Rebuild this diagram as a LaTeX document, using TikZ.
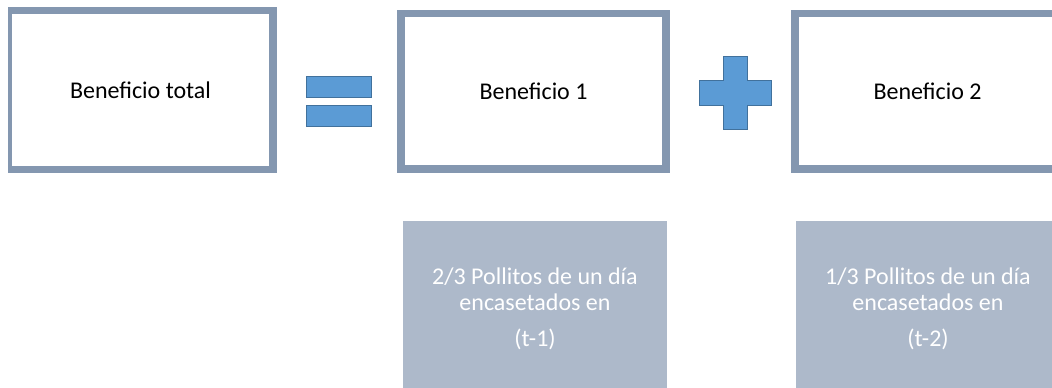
\documentclass[tikz,border=0pt]{standalone}
\usepackage{fontspec}
\setmainfont{Carlito}
\usepackage{xcolor}
\definecolor{boxedge}{HTML}{8497B0}
\definecolor{partfill}{HTML}{ADB9CA}
\definecolor{opfill}{HTML}{5B9BD5}
\definecolor{opedge}{HTML}{41719C}

\begin{document}
\begin{tikzpicture}[x=0.75pt, y=-0.75pt]
		\tikzstyle{total} = [rectangle, draw=boxedge, line width=5.6pt, fill=white, text centered, minimum width=199pt, inner sep=0pt, font=\fontsize{18}{21.6}\selectfont]
		\tikzstyle{share} = [rectangle, fill=partfill, text=white, align=center, minimum width=198pt, minimum height=132pt, inner sep=0pt, font=\fontsize{18}{19.5}\selectfont]
		\tikzstyle{operator} = [draw=opedge, line width=0.75pt, fill=opfill]
		\useasboundingbox (0,0) rectangle (1052,388);
		\clip (8,0) rectangle (1052,388);
		\node [total, minimum height=118.9pt] at (140.5,90) (bentotal) {Beneficio total};
		\node [total, minimum height=116.6pt] at (533.5,91.5) (ben1) {Beneficio 1};
		\node [total, minimum height=116.6pt] at (927.5,91.5) (ben2) {Beneficio 2};
		\node [operator, minimum width=48.75pt, minimum height=15.5pt] at (339.2,87) (eqtop) {};
		\node [operator, minimum width=48.75pt, minimum height=15.5pt] at (339.2,115.7) (eqbottom) {};
		\draw [operator] (723.3,56.7) -- (747.7,56.7) -- (747.7,81) -- (771.7,81) -- (771.7,105.3) -- (747.7,105.3) -- (747.7,130) -- (723.3,130) -- (723.3,105.3) -- (699.3,105.3) -- (699.3,81) -- (723.3,81) -- cycle;
		\node [share] at (535,309) (share1) {2/3 Pollitos de un día\\encasetados en\\[7.8pt](t-1)};
		\node [share] at (928,309) (share2) {1/3 Pollitos de un día\\encasetados en\\[7.8pt](t-2)};
	\end{tikzpicture}
\end{document}
